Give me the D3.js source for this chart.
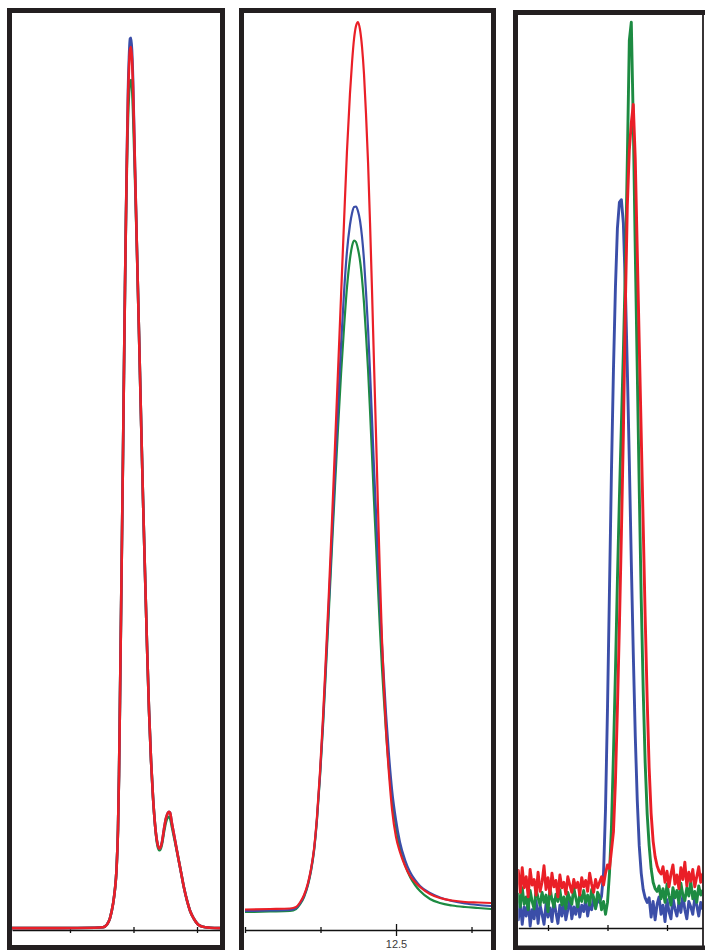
<!DOCTYPE html>
<html><head><meta charset="utf-8">
<script src="https://cdn.jsdelivr.net/npm/d3@7"></script>
<style>body{margin:0;background:#fff}svg{display:block}</style>
</head><body><svg id="c" width="708" height="950"></svg>
<script>
// ---------- Panel 1 data (time, min ; absorbance, % of full scale) ----------
const panel1Time = [6.087, 6.843, 7.394, 7.520, 7.583, 7.630, 7.677, 7.709, 7.732, 7.756, 7.772, 7.787, 7.803, 7.819, 7.835, 7.850, 7.866, 7.882, 7.898, 7.913, 7.929, 7.945, 7.961, 7.976, 7.992, 8.024, 8.055, 8.087, 8.118, 8.150, 8.181, 8.213, 8.244, 8.276, 8.307, 8.339, 8.370, 8.402, 8.417, 8.449, 8.480, 8.512, 8.543, 8.559, 8.575, 8.606, 8.654, 8.701, 8.748, 8.795, 8.843, 8.890, 8.953, 9.016, 9.094, 9.205, 9.362];
const panel1Red = [0.2, 0.2, 0.25, 0.3, 0.6, 1.3, 2.8, 4.5, 6.5, 11, 17, 25, 34, 43, 52, 61, 70, 78, 85, 90.5, 94, 96, 96.3, 95, 92, 83, 74, 65, 56, 47, 39, 31, 24, 18.5, 14.5, 11.5, 9.7, 8.9, 8.9, 9.6, 11, 12.2, 12.8, 12.9, 12.8, 11.6, 9.8, 8.0, 6.3, 4.6, 3.2, 2.1, 1.2, 0.6, 0.35, 0.25, 0.2];
const panel1Blue = [0.2, 0.2, 0.25, 0.3, 0.6, 1.3, 2.8, 4.5, 6.5, 11, 17, 25, 34, 43, 52, 61, 70, 78, 85.5, 91.5, 95.2, 97.2, 97.3, 96, 93, 83, 74, 65, 56, 47, 39, 31, 24, 18.5, 14.5, 11.5, 9.7, 8.9, 8.9, 9.6, 11, 12.2, 12.8, 12.9, 12.8, 11.6, 9.8, 8.0, 6.3, 4.6, 3.2, 2.1, 1.2, 0.6, 0.35, 0.25, 0.2];
const panel1Green = [0.2, 0.2, 0.25, 0.3, 0.6, 1.3, 2.8, 4.5, 6.5, 11, 17, 25, 34, 43, 52, 61, 70, 78, 84, 88.5, 91.2, 92.5, 92.7, 92, 89.5, 82, 74, 65, 56, 47, 39, 31, 24, 18.5, 14.5, 11.5, 9.5, 8.7, 8.7, 9.4, 10.7, 11.8, 12.3, 12.35, 12.2, 11.2, 9.6, 8.0, 6.3, 4.6, 3.2, 2.1, 1.2, 0.6, 0.35, 0.25, 0.2];
const panel1Ticks = [7, 8, 9];

// ---------- Panel 2 data (time, min ; absorbance, mAU) ----------
const panel2Time = [11.5, 11.666, 11.798, 11.838, 11.864, 11.891, 11.917, 11.937, 11.957, 11.977, 11.997, 12.017, 12.036, 12.056, 12.076, 12.096, 12.116, 12.136, 12.156, 12.175, 12.195, 12.209, 12.222, 12.235, 12.248, 12.262, 12.275, 12.288, 12.301, 12.315, 12.328, 12.341, 12.354, 12.368, 12.381, 12.394, 12.407, 12.421, 12.434, 12.454, 12.474, 12.5, 12.526, 12.560, 12.593, 12.626, 12.659, 12.725, 12.791, 12.871, 12.957, 13.043, 13.129];
const panel2Red = [20.5, 21, 21.5, 23, 27.5, 35, 47, 61, 81, 114, 159, 214, 274, 339, 409, 484, 559, 634, 709, 778, 836, 868, 891, 904, 908, 900, 883, 856, 817, 767, 707, 640, 568, 493, 420, 352, 291, 239, 200, 155, 120, 93, 78, 64, 54, 48, 43, 36, 32, 29.5, 28, 27.5, 27];
const panel2Blue = [19, 19.5, 20, 22, 26.5, 34, 46, 60, 80, 112, 156, 209, 267, 329, 393, 459, 524, 585, 638, 678, 705, 717, 723, 723.5, 719, 709, 693, 670, 639, 601, 558, 511, 463, 416, 370, 326, 286, 249, 216, 174, 140, 110, 88, 70, 58, 50, 44, 37, 32.5, 29, 26.5, 25, 24];
const panel2Green = [18, 18.5, 19, 21, 25.5, 33, 45, 59, 79, 111, 154, 205, 261, 321, 383, 444, 502, 556, 603, 642, 671, 684, 689.5, 688, 681, 669, 651, 627, 596, 560, 519, 475, 430, 385, 341, 300, 262, 228, 198, 160, 130, 103, 82, 65, 53, 45, 39, 31, 27, 24.5, 23, 22, 21];
const panel2Ticks = [11.5, 12.0, 12.5, 13.0];
const panel2Labels = {"12.5": "12.5"};

// ---------- Panel 3 data (sampled detector trace: start, step in min ; signal %) ----------
const panel3Start = 1.5;
const panel3Step = 1 / 30;
const panel3Blue = [0.9, 2.8, 0.4, 2.3, 1.3, 3.1, 0.2, 2.0, 1.0, 3.0, 0.5, 2.5, 1.5, 0.4, 2.6, 1.2, 2.2, 0.7, 3.1, 1.7, 0.5, 2.5, 1.3, 2.8, 0.9, 2.0, 3.3, 1.0, 2.3, 1.5, 3.0, 1.2, 2.5, 1.8, 3.1, 1.3, 2.6, 2.0, 3.3, 2.2, 3.1, 2.8,
  3.5, 6, 13, 24, 37, 50, 61, 70, 76.5, 79.3, 79.6, 77, 70, 61, 51, 40, 30, 21, 14, 9, 6, 4.2, 3.3, 2.8,
  3.3, 1.2, 2.9, 0.9, 2.6, 3.4, 1.5, 2.5, 0.7, 3.1, 1.8, 1.0, 3.3, 2.1, 1.3, 2.8, 1.7, 3.6, 2.0, 1.0, 2.9, 2.3, 1.5, 3.3, 2.5, 1.3, 2.8, 2.1];
const panel3Green = [3.7, 2.3, 4.4, 2.6, 3.4, 2.0, 4.1, 2.9, 2.1, 4.2, 3.3, 2.5, 3.9, 2.8, 3.6, 1.8, 4.4, 3.1, 2.3, 3.7, 2.9, 4.2, 2.5, 3.4, 2.1, 3.9, 3.1, 2.6, 4.4, 3.3, 2.3, 3.7, 2.9, 4.1, 2.8, 3.6, 2.5, 4.2, 3.3, 2.1, 3.9, 3.4, 2.0, 2.9, 1.5,
  2.8, 6, 11, 19, 28, 38, 47, 55, 63, 72, 84, 97, 99, 88, 74, 61, 48, 36, 26, 18, 12.5, 9, 6.5, 5.0, 4.3, 4.0,
  4.6, 3.2, 4.3, 2.8, 4.8, 3.5, 2.5, 4.4, 3.3, 4.1, 2.7, 4.9, 3.6, 3.0, 4.4, 3.5, 5.1, 3.2, 4.0, 2.8, 4.6, 3.6, 4.1];
const panel3Red = [6.3, 3.9, 6.6, 4.4, 5.6, 3.4, 6.4, 4.7, 5.3, 3.6, 6.1, 4.0, 5.0, 6.8, 4.2, 5.5, 3.7, 6.0, 4.5, 5.2, 3.4, 5.8, 4.4, 5.0, 3.7, 5.6, 4.7, 3.9, 5.3, 4.4, 5.0, 3.6, 5.5, 4.5, 5.2, 4.0, 6.0, 4.8, 3.9, 5.3, 4.4, 5.0, 5.6, 4.7, 6.0, 6.9,
  6.5, 8.5, 10.5, 16, 24, 33, 43, 54, 68, 79, 85, 88, 90, 84, 74, 64, 54, 44, 34, 25, 17.5, 12.5, 9.5, 7.8, 6.8, 6.2, 5.9,
  6.7, 5.0, 6.2, 4.5, 5.9, 6.9, 4.8, 5.8, 4.3, 6.6, 5.3, 7.2, 4.6, 6.1, 5.1, 6.4, 4.5, 5.6, 6.7, 5.0, 5.9];
const panel3Ticks = [2, 3, 4];

// ---------- styling ----------
const COLORS = { red: "#ea1f27", blue: "#3b4ea8", green: "#1d8b42" };
const FRAME = "#231f20";
const svg = d3.select("#c");

function drawPanel(p) {
  const x = d3.scaleLinear().domain(p.xDomain).range([p.x0, p.x1]);
  const y = d3.scaleLinear().domain(p.yDomain).range([p.axisY, p.yTop]);
  const clipId = "clip" + p.id;
  svg.append("clipPath").attr("id", clipId).append("rect")
    .attr("x", p.x0).attr("y", p.clipTop)
    .attr("width", p.x1 - p.x0).attr("height", p.axisY - p.clipTop + 4);

  const isMajor = t => !!(p.labels && p.labels[String(t)]);
  const axis = d3.axisBottom(x).tickValues(p.ticks).tickSize(0).tickSizeOuter(0)
    .tickPadding(10)
    .tickFormat(t => isMajor(t) ? p.labels[String(t)] : "");
  const ag = svg.append("g").attr("transform", `translate(0,${p.axisY})`).call(axis);
  ag.select(".domain").attr("stroke", "#111").attr("stroke-width", 1.3);
  ag.selectAll(".tick line")
    .attr("stroke", "#111").attr("stroke-width", 1.3)
    .attr("y1", t => isMajor(t) ? -6 : -3)
    .attr("y2", t => isMajor(t) ? 6 : 3);
  ag.selectAll(".tick text").attr("font-family", "Liberation Sans, Arial, sans-serif")
    .attr("font-size", 11).attr("fill", "#3a3a3a");

  const line = d3.line().x(d => x(d[0])).y(d => y(d[1])).curve(p.curve);
  const g = svg.append("g").attr("clip-path", `url(#${clipId})`);
  p.series.forEach(s => {
    const pts = p.time.map((t, i) => [t, s.values[i]]);
    g.append("path").datum(pts)
      .attr("fill", "none").attr("stroke", s.color)
      .attr("stroke-width", p.lw).attr("stroke-linejoin", "round").attr("stroke-linecap", "round")
      .attr("d", line);
  });
}

// Panel 1
drawPanel({
  id: 1, xDomain: [6.087, 9.362], x0: 12, x1: 220, yDomain: [0, 100], axisY: 930, yTop: 13, clipTop: 13,
  ticks: panel1Ticks, time: panel1Time, lw: 2.6, curve: d3.curveMonotoneX,
  series: [{ values: panel1Green, color: COLORS.green }, { values: panel1Blue, color: COLORS.blue }, { values: panel1Red, color: COLORS.red }]
});
// Panel 2
drawPanel({
  id: 2, xDomain: [11.5, 13.129], x0: 245, x1: 491, yDomain: [0, 920], axisY: 930, yTop: 10, clipTop: 13,
  ticks: panel2Ticks, labels: panel2Labels, time: panel2Time, lw: 2.2, curve: d3.curveMonotoneX,
  series: [{ values: panel2Green, color: COLORS.green }, { values: panel2Blue, color: COLORS.blue }, { values: panel2Red, color: COLORS.red }]
});
// Panel 3
const panel3Time = panel3Blue.map((_, i) => panel3Start + i * panel3Step);
drawPanel({
  id: 3, xDomain: [1.5, 4.6], x0: 518.25, x1: 702.7, yDomain: [0, 100], axisY: 928, yTop: 13, clipTop: 15,
  ticks: panel3Ticks, time: panel3Time, lw: 2.9, curve: d3.curveLinear,
  series: [{ values: panel3Blue, color: COLORS.blue }, { values: panel3Green, color: COLORS.green }, { values: panel3Red, color: COLORS.red }]
});

// Frames
svg.append("rect").attr("x", 9.5).attr("y", 10.5).attr("width", 213).attr("height", 937)
  .attr("fill", "none").attr("stroke", FRAME).attr("stroke-width", 5);
svg.append("rect").attr("x", 241.5).attr("y", 10.5).attr("width", 252).attr("height", 960)
  .attr("fill", "none").attr("stroke", FRAME).attr("stroke-width", 5);
svg.append("path").attr("d", "M705,12.5H515.5V948H705")
  .attr("fill", "none").attr("stroke", FRAME).attr("stroke-width", 5);
svg.append("line").attr("x1", 703).attr("x2", 703).attr("y1", 12).attr("y2", 948)
  .attr("stroke", FRAME).attr("stroke-width", 1.8);
</script>
</body></html>
